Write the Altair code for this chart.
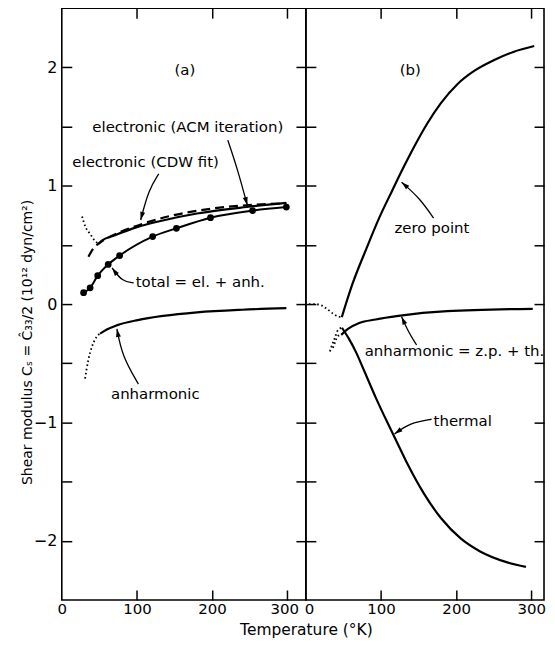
import math
import altair as alt
import pandas as pd

# ---------------- values ----------------
# Panel (a)
acm_T = [49, 53, 70, 100, 130, 180, 246, 299]
acm_v = [0.51, 0.535, 0.58, 0.65, 0.70, 0.765, 0.82, 0.855]
acm_low_T = [27, 31, 38, 44, 49]
acm_low_v = [0.74, 0.66, 0.59, 0.535, 0.51]
cdw_T = [35.5, 42, 51, 66, 84, 106, 145, 198, 259, 299]
cdw_v = [0.40, 0.47, 0.52, 0.575, 0.625, 0.675, 0.745, 0.805, 0.84, 0.85]
total_T = [29, 37.7, 47.8, 61.8, 77, 121, 152.6, 198, 254, 299]
total_v = [0.096, 0.137, 0.24, 0.335, 0.41, 0.57, 0.64, 0.73, 0.79, 0.82]
anh_a_T = [51, 60, 73, 101, 135, 180, 240, 299]
anh_a_v = [-0.25, -0.215, -0.18, -0.135, -0.10, -0.07, -0.048, -0.035]
anh_a_low_T = [31, 33, 37.7, 42, 46.5, 51]
anh_a_low_v = [-0.63, -0.55, -0.41, -0.33, -0.275, -0.25]

# Panel (b)
zp_T = [47.8, 62, 80, 97, 115, 128, 145, 162, 180, 202, 224, 250, 276, 304]
zp_v = [-0.11, 0.17, 0.46, 0.72, 0.96, 1.13, 1.34, 1.53, 1.70, 1.86, 1.97, 2.06, 2.13, 2.18]
zp_low_T = [4, 12, 20, 28, 36, 43, 47.8]
zp_low_v = [0.0, 0.0, -0.01, -0.04, -0.08, -0.105, -0.11]
th_T = [48, 57, 67, 78, 93, 110, 123, 136, 158, 180, 206, 232, 267, 293]
th_v = [-0.2, -0.29, -0.41, -0.57, -0.79, -1.02, -1.19, -1.36, -1.61, -1.81, -1.98, -2.09, -2.18, -2.22]
th_low_T = [32, 34, 38.3, 42.7, 48]
th_low_v = [-0.40, -0.36, -0.29, -0.22, -0.2]
anh_b_T = [47, 56, 71, 93, 123, 188, 302]
anh_b_v = [-0.26, -0.21, -0.16, -0.13, -0.10, -0.06, -0.04]
anh_b_low_T = [36, 39, 42.7, 47]
anh_b_low_v = [-0.37, -0.32, -0.27, -0.26]

# annotation text (position in data units)
text_a = ["(a)", "electronic (ACM iteration)", "electronic (CDW fit)", "total = el. + anh.", "anharmonic"]
text_a_T = [150, 40.6, 14, 98.4, 65.5]
text_a_v = [1.98, 1.50, 1.196, 0.19, -0.76]
text_b = ["(b)", "zero point", "anharmonic = z.p. + th.", "thermal"]
text_b_T = [125, 118, 78.3, 170]
text_b_v = [1.98, 0.643, -0.396, -0.99]

# arrows: (tail, bend, tip) in data units
arrows_a = [((221, 1.385), (234, 1.14), (247, 0.835)),
            ((129, 1.10), (115.6, 0.965), (105, 0.71)),
            ((95.8, 0.18), (80.4, 0.19), (67, 0.305)),
            ((102, -0.676), (80.4, -0.44), (73.4, -0.21))]
arrows_b = [((170, 0.726), (151.8, 0.893), (127.4, 1.03)),
            ((147.4, -0.346), (136.3, -0.234), (127.4, -0.107)),
            ((167.3, -0.973), (138.4, -1.003), (118, -1.097))]

x_label_vals_a = [0, 100, 200]
x_label_last_a = [300]
x_label_first_b = [0]
x_label_vals_b = [100, 200, 300]
x_tick_vals = [100, 200, 300]
y_label_vals = [-2, -1, 0, 1, 2]
y_tick_vals = [-2, -1.5, -1, -0.5, 0, 0.5, 1, 1.5, 2]

# ---------------- layout ----------------
H = 594
WA, WB = 245, 239
YD = [-2.5, 2.5]
XA = [0, 325]
XB = [0, 317]
FONT = "DejaVu Sans"
TS = 10

def df(T, v):
    return pd.DataFrame({"T": T, "v": v})

def enc_x(dom, axis=None):
    return alt.X("T:Q", scale=alt.Scale(domain=dom, nice=False, zero=False), axis=axis)

def enc_y(axis=None):
    return alt.Y("v:Q", scale=alt.Scale(domain=YD, nice=False, zero=False), axis=axis)

def line(T, v, dom, dash=None, width=2.2, xaxis=None, yaxis=None):
    kw = dict(color="black", strokeWidth=width, interpolate="monotone")
    if dash is not None:
        kw["strokeDash"] = dash
    return alt.Chart(df(T, v)).mark_line(**kw).encode(x=enc_x(dom, xaxis), y=enc_y(yaxis))

def arrow_layers(arrows, dom, W):
    kx = W / (dom[1] - dom[0])
    ky = H / (YD[1] - YD[0])
    rows, heads = [], []
    for i, (tail, bend, tip) in enumerate(arrows):
        for j, p in enumerate((tail, bend, tip)):
            rows.append({"id": i, "o": j, "T": p[0], "v": p[1]})
        dx = (tip[0] - bend[0]) * kx
        dy = -(tip[1] - bend[1]) * ky
        ang = math.degrees(math.atan2(dx, -dy)) % 360
        heads.append({"T": tip[0], "v": tip[1], "angle": ang})
    ln = alt.Chart(pd.DataFrame(rows)).mark_line(color="black", strokeWidth=1.3, interpolate="basis").encode(
        x=enc_x(dom), y=enc_y(), detail="id:N", order="o:Q")
    hd = alt.Chart(pd.DataFrame(heads)).mark_point(
        shape="M0,0L0.55,1.8L-0.55,1.8Z", filled=True, color="black", opacity=1, size=81, strokeWidth=0
    ).encode(x=enc_x(dom), y=enc_y(), angle=alt.Angle("angle:Q", scale=None))
    return [ln, hd]

def text_layer(txt, T, v, dom):
    d = pd.DataFrame({"T": T, "v": v, "t": txt})
    return alt.Chart(d).mark_text(align="left", baseline="middle", font=FONT, fontSize=15, color="black").encode(
        x=enc_x(dom), y=enc_y(), text="t:N")

lab_x = dict(orient="bottom", ticks=False, domain=False, grid=False, labelFontSize=15,
             labelPadding=2, labelFlush=False, labelOverlap=False, labelFont=FONT, labelColor="black")
tick_common = dict(labels=False, domain=False, grid=False, ticks=True, tickSize=TS, offset=-TS, title=None,
                   tickColor="black", tickWidth=1.5)

ytitle = "Shear modulus C\u209b = \u0108\u2083\u2083/2 (10\u00b9\u00b2 dyn/cm\u00b2)"

# ---- panel (a)
ax_a_bottom = alt.Axis(title=None, values=x_label_vals_a, **lab_x)
ax_a_bottom_last = alt.Axis(title=None, values=x_label_last_a, labelOffset=-3, **lab_x)
ax_a_left = alt.Axis(orient="left", values=y_label_vals, ticks=False, domain=False, grid=False, labelFontSize=16,
                     labelPadding=5, labelFont=FONT, labelColor="black", title=ytitle, titleFont=FONT,
                     titleFontSize=14, titleFontWeight="normal", titleColor="black", titleAngle=270,
                     titleX=-34, titleY=335, titleAlign="center", titleBaseline="middle")
panel_a_layers = [
    line(acm_T, acm_v, XA, xaxis=ax_a_bottom, yaxis=ax_a_left),
    line(cdw_T, cdw_v, XA, dash=[9, 5],
         xaxis=alt.Axis(orient="bottom", values=x_tick_vals, **tick_common),
         yaxis=alt.Axis(orient="left", values=y_tick_vals, **tick_common)),
    line(total_T, total_v, XA, width=2.0,
         xaxis=alt.Axis(orient="top", values=x_tick_vals, **tick_common),
         yaxis=alt.Axis(orient="right", values=y_tick_vals, **tick_common)),
    line(acm_low_T, acm_low_v, XA, dash=[1.6, 2.6], width=1.8, xaxis=ax_a_bottom_last),
    line(anh_a_T, anh_a_v, XA),
    line(anh_a_low_T, anh_a_low_v, XA, dash=[1.6, 2.6], width=1.8),
    alt.Chart(df(total_T, total_v)).mark_circle(size=46, color="black", opacity=1).encode(x=enc_x(XA), y=enc_y()),
    text_layer(text_a, text_a_T, text_a_v, XA),
] + arrow_layers(arrows_a, XA, WA)
panel_a = alt.layer(*panel_a_layers).resolve_axis(x="independent", y="independent").properties(width=WA, height=H)

# ---- panel (b)
ax_b_bottom = alt.Axis(title="Temperature (\u00b0K)", values=x_label_vals_b, titleFont=FONT, titleFontSize=15.5,
                       titleFontWeight="normal", titleColor="black", titleX=0, titleY=30, titleAlign="center",
                       titleBaseline="middle", **lab_x)
ax_b_bottom_first = alt.Axis(title=None, values=x_label_first_b, labelOffset=3, **lab_x)
panel_b_layers = [
    line(zp_T, zp_v, XB, xaxis=ax_b_bottom),
    line(th_T, th_v, XB,
         xaxis=alt.Axis(orient="bottom", values=x_tick_vals, **tick_common),
         yaxis=alt.Axis(orient="left", values=y_tick_vals, **tick_common)),
    line(anh_b_T, anh_b_v, XB,
         xaxis=alt.Axis(orient="top", values=x_tick_vals, **tick_common),
         yaxis=alt.Axis(orient="right", values=y_tick_vals, **tick_common)),
    line(zp_low_T, zp_low_v, XB, dash=[1.6, 2.6], width=1.8, xaxis=ax_b_bottom_first),
    line(th_low_T, th_low_v, XB, dash=[1.6, 2.6], width=1.8),
    line(anh_b_low_T, anh_b_low_v, XB, dash=[1.6, 2.6], width=1.8),
    text_layer(text_b, text_b_T, text_b_v, XB),
] + arrow_layers(arrows_b, XB, WB)
panel_b = alt.layer(*panel_b_layers).resolve_axis(x="independent", y="independent").properties(width=WB, height=H)

chart = alt.hconcat(panel_a, panel_b, spacing=0, bounds="flush").properties(
    padding={"left": 12, "top": -3, "right": 0, "bottom": 0}
).configure_view(stroke="black", strokeWidth=1.6).configure_axis(grid=False)

chart.save("out.html", embed_options={"renderer": "svg", "actions": False})
